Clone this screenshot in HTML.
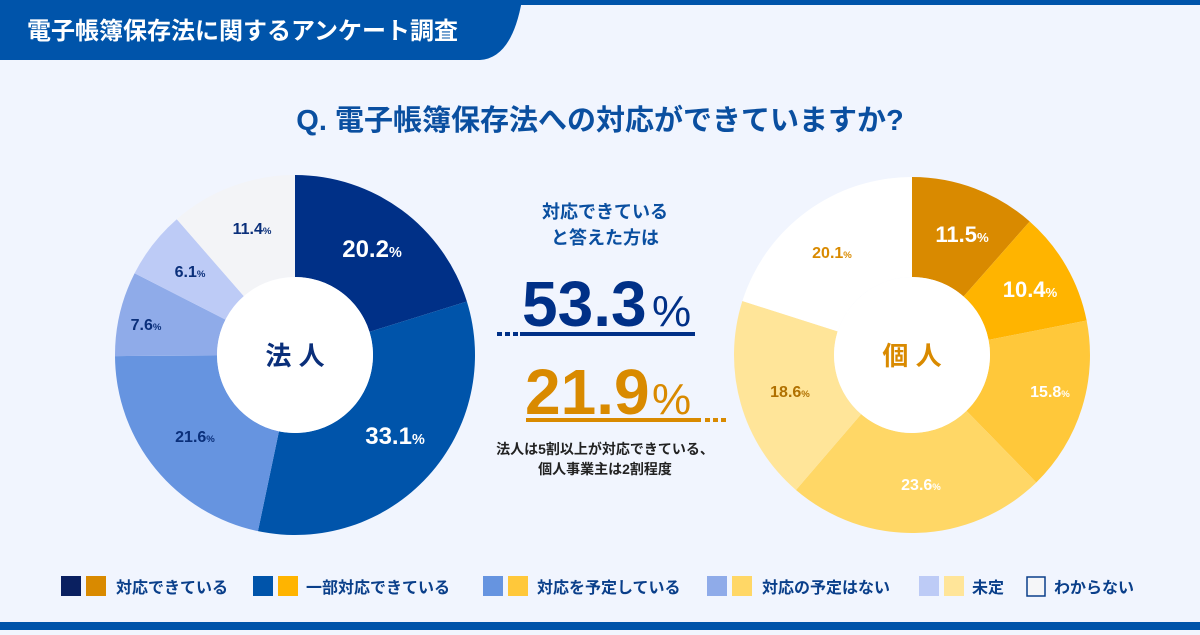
<!DOCTYPE html>
<html><head><meta charset="utf-8"><style>
body{margin:0;width:1200px;height:630px;overflow:hidden;background:#f1f5fe;font-family:"Liberation Sans","Noto Sans CJK JP",sans-serif;}
svg text{font-family:"Liberation Sans","Noto Sans CJK JP",sans-serif;font-weight:bold;}
</style></head><body>
<svg id="s" width="1200" height="630" xmlns="http://www.w3.org/2000/svg">
<rect x="0" y="0" width="1200" height="5" fill="#0054aa"/>
<path d="M0 0 H522 Q512 58 480 60 H0 Z" fill="#0054aa"/>
<text x="27" y="39" font-size="24" fill="#fff">電子帳簿保存法に関するアンケート調査</text>
<text x="600" y="130" font-size="29" fill="#0a4fa0" text-anchor="middle">Q. 電子帳簿保存法への対応ができていますか?</text>
<g id="pies"></g>
<text x="295" y="365" font-size="26" fill="#0a2f7a" text-anchor="middle">法 人</text>
<text x="912" y="365" font-size="26" fill="#d98a00" text-anchor="middle">個 人</text>
<text x="605" y="218" font-size="18" fill="#0a4fa0" text-anchor="middle">対応できている</text>
<text x="605" y="244" font-size="18" fill="#0a4fa0" text-anchor="middle">と答えた方は</text>
<text x="522" y="326" font-size="64" fill="#003087" letter-spacing="0">53.3</text><text x="652" y="326" font-size="44" fill="#003087" style="font-weight:normal">%</text>
<rect x="520" y="332" width="175" height="4" fill="#003087"/>
<rect x="497" y="332" width="5" height="4" fill="#003087"/><rect x="505" y="332" width="5" height="4" fill="#003087"/><rect x="513" y="332" width="5" height="4" fill="#003087"/>
<text x="525" y="414" font-size="64" fill="#d98a00" letter-spacing="0">21.9</text><text x="652" y="414" font-size="44" fill="#d98a00" style="font-weight:normal">%</text>
<rect x="526" y="418" width="175" height="4" fill="#d98a00"/>
<rect x="705" y="418" width="5" height="4" fill="#d98a00"/><rect x="713" y="418" width="5" height="4" fill="#d98a00"/><rect x="721" y="418" width="5" height="4" fill="#d98a00"/>
<text x="605" y="454" font-size="14" fill="#222" text-anchor="middle">法人は5割以上が対応できている、</text>
<text x="605" y="474" font-size="14" fill="#222" text-anchor="middle">個人事業主は2割程度</text>
<g font-size="16" fill="#0a3f8a">
<rect x="61" y="576" width="20" height="20" fill="#0a2060"/><rect x="86" y="576" width="20" height="20" fill="#d98a00"/><text x="116" y="593">対応できている</text>
<rect x="253" y="576" width="20" height="20" fill="#0054aa"/><rect x="278" y="576" width="20" height="20" fill="#ffb400"/><text x="306" y="593">一部対応できている</text>
<rect x="483" y="576" width="20" height="20" fill="#6694e0"/><rect x="508" y="576" width="20" height="20" fill="#ffc83a"/><text x="537" y="593">対応を予定している</text>
<rect x="707" y="576" width="20" height="20" fill="#8fabe9"/><rect x="732" y="576" width="20" height="20" fill="#ffd766"/><text x="762" y="593">対応の予定はない</text>
<rect x="919" y="576" width="20" height="20" fill="#bdcbf6"/><rect x="944" y="576" width="20" height="20" fill="#ffe599"/><text x="972" y="593">未定</text>
<rect x="1027" y="577" width="18" height="19" fill="#f5f6f8" stroke="#0a3f8a" stroke-width="1.5"/><text x="1054" y="593">わからない</text>
</g>
<rect x="0" y="622" width="1200" height="8" fill="#0054aa"/>
</svg>
<script>
function pie(cx,cy,R,r,vals,cols){let g='';let a=0;const t=vals.reduce((x,y)=>x+y,0);
for(let i=0;i<vals.length;i++){const a0=a/t*2*Math.PI,a1=(a+vals[i])/t*2*Math.PI;a+=vals[i];
const p=(ang,rad)=>[(cx+rad*Math.sin(ang)).toFixed(2),(cy-rad*Math.cos(ang)).toFixed(2)];
const l=(a1-a0)>Math.PI?1:0;const A=p(a0,R),B=p(a1,R),C=p(a1,r),D=p(a0,r);
g+=`<path d="M${A} A${R} ${R} 0 ${l} 1 ${B} L${C} A${r} ${r} 0 ${l} 0 ${D}Z" fill="${cols[i]}"/>`;}
g+=`<circle cx="${cx}" cy="${cy}" r="${r}" fill="#fff"/>`;return g;}
let h=pie(295,355,180,78,[20.2,33.1,21.6,7.6,6.1,11.4],['#003087','#0054aa','#6694e0','#8fabe9','#bdcbf6','#f3f4f7']);
h+=pie(912,355,178,78,[11.5,10.4,15.8,23.6,18.6,20.1],['#d98a00','#ffb400','#ffc83a','#ffd766','#ffe599','#ffffff']);
function lb(x,y,n,c,s){return `<text x="${x}" y="${y}" fill="${c}" font-size="${s}" text-anchor="middle">${n}<tspan font-size="${s*0.6}">%</tspan></text>`;}
h+=lb(372,257,'20.2','#fff',24)+lb(395,444,'33.1','#fff',24)+lb(195,442,'21.6','#0a2f7a',16)+lb(146,330,'7.6','#0a2f7a',16)+lb(190,277,'6.1','#0a2f7a',16)+lb(252,234,'11.4','#0a2f7a',16);
h+=lb(962,242,'11.5','#fff',22)+lb(1030,297,'10.4','#fff',22)+lb(1050,397,'15.8','#fff',16)+lb(921,490,'23.6','#fff',16)+lb(790,397,'18.6','#b07000',16)+lb(832,258,'20.1','#d98a00',16);
document.getElementById('pies').innerHTML=h;
</script>
</body></html>
